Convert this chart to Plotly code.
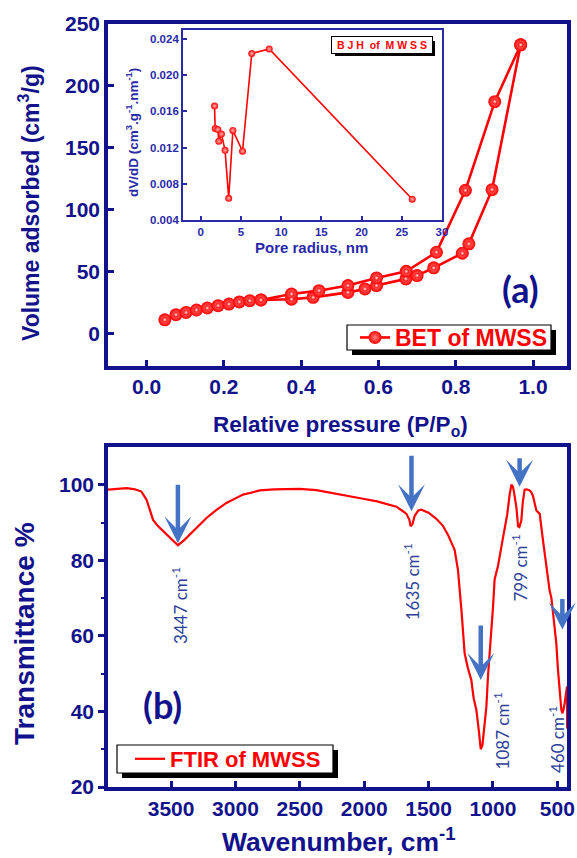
import plotly.graph_objects as go

W, H = 577, 858

# ---------------- data ----------------
# N2 isotherm (relative pressure, volume adsorbed cm3/g)
ads_p = [0.047, 0.076, 0.102, 0.129, 0.157, 0.185, 0.213, 0.240, 0.267, 0.296,
         0.375, 0.431, 0.521, 0.565, 0.595, 0.671, 0.700, 0.743, 0.817, 0.834,
         0.894, 0.968]
ads_v = [10.9, 15.0, 16.8, 18.8, 20.4, 22.3, 23.6, 25.3, 26.3, 26.9,
         27.5, 29.0, 33.0, 35.8, 38.5, 43.9, 46.6, 52.8, 64.6, 72.2,
         115.9, 232.8]
des_p = [0.968, 0.901, 0.825, 0.750, 0.672, 0.595, 0.521, 0.446, 0.375, 0.296]
des_v = [232.8, 186.9, 115.4, 65.4, 50.0, 44.7, 38.5, 34.4, 31.7, 26.9]

# BJH pore size distribution
pore_r = [1.72, 1.80, 2.13, 2.25, 2.58, 3.03, 3.48, 4.00, 5.20, 6.35, 8.52, 26.3]
dvdd = [0.0166, 0.0141, 0.0140, 0.0127, 0.0135, 0.0117, 0.0064, 0.0139,
        0.0116, 0.0224, 0.0229, 0.0063]

# FTIR spectrum (wavenumber cm-1, transmittance %)
wavenumber = [3990, 3900, 3845, 3780, 3730, 3690, 3665, 3640, 3600, 3536,
              3490, 3447, 3400, 3355, 3290, 3225, 3150, 3070, 3000, 2941,
              2880, 2811, 2700, 2630, 2500, 2371, 2268, 2203, 2100, 2009,
              1900, 1802, 1750, 1699, 1672, 1650, 1639, 1625, 1608, 1580,
              1556, 1500, 1440, 1390, 1350, 1298, 1272, 1245, 1220, 1195,
              1168, 1150, 1129, 1110, 1095, 1082, 1064, 1051, 1039, 1026,
              1000, 987, 961, 922, 890, 870, 857, 845, 839, 818,
              805, 795, 780, 768, 754, 740, 715, 702, 689, 663,
              650, 637, 612, 585, 560, 546, 520, 508, 495, 482,
              469, 461, 452, 443, 434, 425, 424]
transmittance = [98.7, 98.9, 99.1, 98.8, 98.2, 96.0, 93.4, 90.7, 89.0, 86.8,
                 85.3, 84.0, 85.3, 86.8, 89.0, 91.2, 93.3, 95.2, 96.4, 97.4,
                 97.9, 98.5, 98.8, 98.9, 98.9, 98.6, 98.0, 97.6, 97.0, 96.3,
                 95.6, 94.7, 94.2, 93.0, 92.3, 90.8, 89.0, 89.6, 91.8, 93.2,
                 93.4, 92.6, 91.0, 89.2, 86.8, 82.8, 77.5, 66.9, 55.4, 51.5,
                 48.3, 43.5, 40.4, 35.0, 30.0, 31.0, 36.9, 41.3, 49.2, 54.5,
                 67.5, 75.0, 78.5, 86.0, 92.0, 97.5, 100.0, 99.5, 98.5, 94.0,
                 89.0, 88.8, 90.5, 95.5, 98.7, 98.8, 98.5, 98.0, 97.0, 93.2,
                 92.8, 92.3, 85.4, 78.5, 72.0, 70.0, 62.5, 58.0, 51.0, 45.0,
                 40.5, 39.5, 40.5, 42.2, 44.5, 46.6, 35.5]

# band assignments: arrow tip, arrow length (px), label centre
peak_labels = ["3447", "1635", "1087", "799", "460"]
peak_tip_wn = [3447, 1633, 1095, 793, 461]
peak_tip_t = [84.5, 93.0, 48.3, 99.5, 61.7]
peak_arrow_len = [60, 57, 56, 30, 32]
peak_lab_wn = [3438, 1633, 935, 793, 508]
peak_lab_t = [67.9, 74.3, 34.8, 78.0, 32.5]

# ---------------- styling ----------------
NAVY = "#12128c"
INSET = "#2a2aa8"
RED = "#ff0000"
ARROW = "#4472c4"
LABEL = "#2b3f99"
ARIAL = "Liberation Sans, Arial, sans-serif"
CAL = "Lato, sans-serif"


def px_x(v):
    return v / W


def px_y(v):
    return 1 - v / H


fig = go.Figure()

ball = dict(color=RED, size=13, gradient=dict(type="radial", color="#ff8080"))
shine = dict(color=RED, size=5, gradient=dict(type="radial", color="#ffe8e8"))

fig.add_trace(go.Scatter(x=ads_p, y=ads_v, mode="lines+markers", name="BET of MWSS",
                         line=dict(color=RED, width=2.6), marker=ball,
                         xaxis="x", yaxis="y", legend="legend", showlegend=True))
fig.add_trace(go.Scatter(x=des_p, y=des_v, mode="lines+markers", name="BET of MWSS",
                         line=dict(color=RED, width=2.6), marker=ball,
                         xaxis="x", yaxis="y", showlegend=False))
fig.add_trace(go.Scatter(x=ads_p + des_p, y=ads_v + des_v, mode="markers",
                         marker=shine, xaxis="x", yaxis="y", showlegend=False,
                         hoverinfo="skip"))

# inset
fig.add_trace(go.Scatter(x=pore_r, y=dvdd, mode="lines+markers", name="BJH of MWSS",
                         line=dict(color=RED, width=1.6),
                         marker=dict(color=RED, size=7,
                                     gradient=dict(type="radial", color="#ffb0b0")),
                         xaxis="x3", yaxis="y3", showlegend=False))

# FTIR
fig.add_trace(go.Scatter(x=wavenumber, y=transmittance, mode="lines", name="FTIR of MWSS",
                         line=dict(color=RED, width=2.2),
                         xaxis="x2", yaxis="y2", legend="legend2", showlegend=True))

main_tick = dict(family=ARIAL, size=21, color=NAVY, weight="bold")
axis_common = dict(showline=True, linecolor=NAVY, linewidth=3.5, mirror=True,
                   showgrid=False, zeroline=False, tickcolor=NAVY, tickwidth=2.5,
                   tickfont=main_tick, automargin=False)
inset_common = dict(ticks="inside", ticklen=4, tickwidth=1.5, tickcolor=INSET,
                    showline=True, linecolor=INSET, linewidth=1.8, mirror=True,
                    showgrid=False, zeroline=False, automargin=False,
                    tickfont=dict(family=ARIAL, size=11.5, color=INSET, weight="bold"))

fig.update_layout(
    width=W, height=H,
    margin=dict(l=0, r=0, t=0, b=0, pad=0, autoexpand=False),
    paper_bgcolor="white", plot_bgcolor="white",
    xaxis=dict(domain=[px_x(108), px_x(567)], range=[-0.1, 1.088], anchor="y",
               tick0=0, dtick=0.2, tickformat=".1f", ticks="inside", ticklen=6,
               **axis_common),
    yaxis=dict(domain=[px_y(365.5), px_y(23.5)], range=[-26, 250], anchor="x",
               tick0=0, dtick=50, ticks="inside", ticklen=6, **axis_common),
    xaxis2=dict(domain=[px_x(108), px_x(567)], range=[3990, 425], anchor="y2",
                tickvals=[3500, 3000, 2500, 2000, 1500, 1000, 500],
                ticks="inside", ticklen=6, **axis_common),
    yaxis2=dict(domain=[px_y(787), px_y(447)], range=[20, 110], anchor="x2",
                tickvals=[20, 40, 60, 80, 100], ticks="outside", ticklen=6,
                minor=dict(tickvals=[30, 50, 70, 90], ticks="outside", ticklen=3,
                           tickcolor=NAVY, tickwidth=2),
                **axis_common),
    xaxis3=dict(domain=[px_x(183), px_x(442)], range=[-2.2, 30], anchor="y3",
                tick0=0, dtick=5, **inset_common),
    yaxis3=dict(domain=[px_y(220), px_y(30)], range=[0.004, 0.025], anchor="x3",
                tickvals=[0.004, 0.008, 0.012, 0.016, 0.020, 0.024], tickformat=".3f",
                **inset_common),
    legend=dict(x=px_x(355), y=px_y(337.5), xanchor="left", yanchor="middle",
                bgcolor="rgba(0,0,0,0)", borderwidth=0,
                font=dict(family=ARIAL, size=23, color=RED, weight="bold"),
                itemwidth=30, tracegroupgap=0),
    legend2=dict(x=px_x(130), y=px_y(759), xanchor="left", yanchor="middle",
                 bgcolor="rgba(0,0,0,0)", borderwidth=0,
                 font=dict(family=ARIAL, size=22, color=RED, weight="bold"),
                 itemwidth=30, tracegroupgap=0),
    showlegend=True,
)

annotations = [
    dict(text="Volume adsorbed (cm<sup>3</sup>/g)", x=px_x(29), y=px_y(203),
         textangle=-90, font=dict(family=ARIAL, size=23, color=NAVY, weight="bold")),
    dict(text="Relative pressure (P/P<sub>o</sub>)", x=px_x(340), y=px_y(426),
         font=dict(family=ARIAL, size=22.5, color=NAVY, weight="bold")),
    dict(text="Transmittance %", x=px_x(24), y=px_y(634), textangle=-90,
         font=dict(family=ARIAL, size=28, color=NAVY, weight="bold")),
    dict(text="Wavenumber, cm<sup>-1</sup>", x=px_x(338), y=px_y(840),
         font=dict(family=ARIAL, size=26.5, color=NAVY, weight="bold")),
    dict(text="(a)", x=px_x(520), y=px_y(289),
         font=dict(family=CAL, size=36, color=NAVY, weight="bold")),
    dict(text="(b)", x=px_x(162), y=px_y(705),
         font=dict(family=CAL, size=36, color=NAVY, weight="bold")),
    dict(text="Pore radius, nm", x=px_x(311), y=px_y(248),
         font=dict(family=ARIAL, size=15, color=INSET, weight="bold")),
    dict(text="dV/dD (cm<sup>3</sup>.g<sup>-1</sup>.nm<sup>-1</sup>)", x=px_x(132),
         y=px_y(133), textangle=-90,
         font=dict(family=ARIAL, size=13.5, color=INSET, weight="bold")),
    dict(text="B J H  of  M W S S", x=px_x(382), y=px_y(45.5), width=98, height=14,
         bgcolor="white", bordercolor="black", borderwidth=1,
         font=dict(family=ARIAL, size=10.5, color=RED, weight="bold")),
]
for a in annotations:
    a.update(xref="paper", yref="paper", showarrow=False,
             xanchor="center", yanchor="middle")

for lab, wn, t, ln, lwn, lt in zip(peak_labels, peak_tip_wn, peak_tip_t,
                                   peak_arrow_len, peak_lab_wn, peak_lab_t):
    annotations.append(dict(x=wn, y=t, xref="x2", yref="y2", ax=0, ay=-ln,
                            axref="pixel", ayref="pixel", text="", showarrow=True,
                            arrowhead=3, arrowsize=1, arrowwidth=4.5,
                            arrowcolor=ARROW, standoff=0))
    annotations.append(dict(x=lwn, y=lt, xref="x2", yref="y2", showarrow=False,
                            text=f"{lab} cm<sup>-1</sup>", textangle=-90,
                            xanchor="center", yanchor="middle",
                            font=dict(family=CAL, size=17, color=LABEL)))

fig.update_layout(annotations=annotations)


def rect(x0, y0, x1, y1, fill, border=0):
    return dict(type="rect", xref="paper", yref="paper",
                x0=px_x(x0), x1=px_x(x1), y0=px_y(y1), y1=px_y(y0),
                fillcolor=fill, layer="above",
                line=dict(width=border, color="black"))


# legend frames with drop shadows
fig.update_layout(shapes=[
    rect(352, 330, 556, 355, "black"),
    rect(347, 325, 551, 350, "white", 1.2),
    rect(122, 750, 338, 778, "black"),
    rect(117, 745, 333, 773, "white", 1.2),
    rect(335, 41, 435, 56, "black"),
])

fig.write_html("out.html")
